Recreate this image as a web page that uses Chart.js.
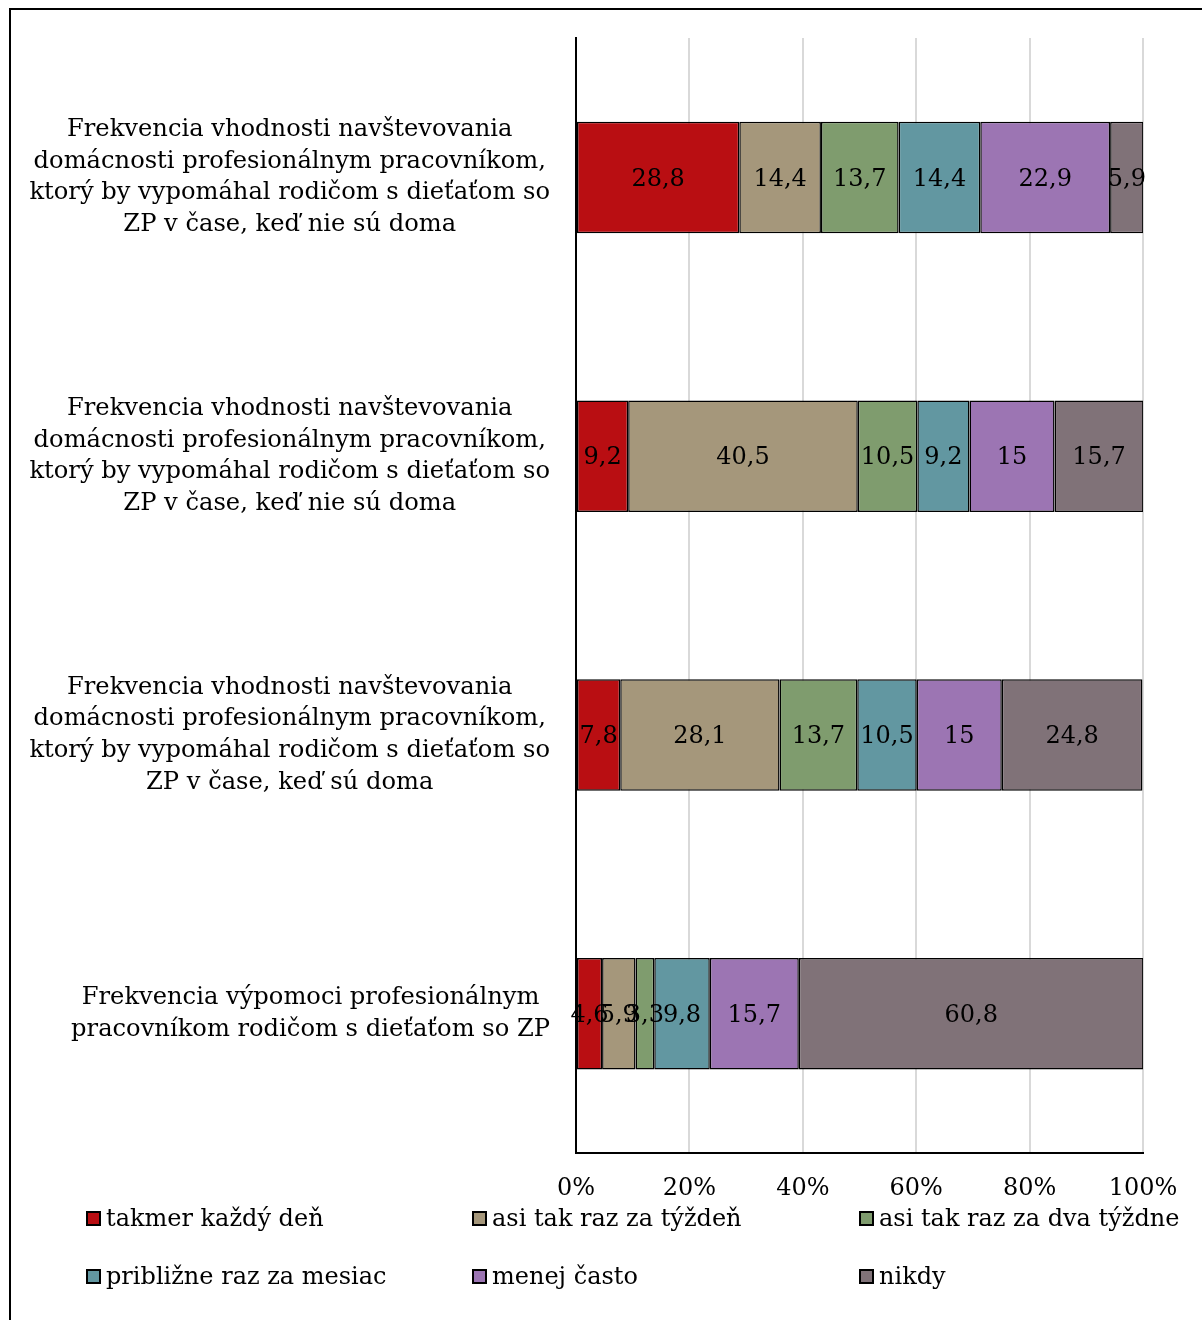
<!DOCTYPE html>
<html lang="sk">
<head>
<meta charset="utf-8">
<title>Frekvencia návštev profesionálneho pracovníka</title>
<script src="https://cdn.jsdelivr.net/npm/chart.js@4/dist/chart.umd.min.js"></script>
<style>
  html, body { margin: 0; padding: 0; background: #fff; overflow: hidden; }
  #wrap { position: relative; width: 1202px; height: 1320px; }
  #frame { position: absolute; left: 9px; top: 8px; width: 1400px; height: 1500px;
           border-left: 2px solid #000; border-top: 2px solid #000; box-sizing: border-box; }
  canvas { position: absolute; left: 0; top: 0; }
  #legend { position: absolute; left: 0; top: 0; width: 1202px; height: 1320px; pointer-events: none;
            font-family: "DejaVu Serif", serif; font-size: 24px; color: #000; }
  .item { position: absolute; display: flex; align-items: center; white-space: nowrap; }
  .box { width: 15px; height: 15px; border: 2px solid #000; box-sizing: border-box; margin-right: 5px; }
</style>
</head>
<body>
<div id="wrap">
  <div id="frame"></div>
  <canvas id="chart" width="1202" height="1320"></canvas>
  <div id="legend"></div>
</div>
<script>
// Survey items (each label split into its display lines)
const categories = [
  ["Frekvencia vhodnosti navštevovania", "domácnosti profesionálnym pracovníkom,", "ktorý by vypomáhal rodičom s dieťaťom so", "ZP v čase, keď nie sú doma"],
  ["Frekvencia vhodnosti navštevovania", "domácnosti profesionálnym pracovníkom,", "ktorý by vypomáhal rodičom s dieťaťom so", "ZP v čase, keď nie sú doma"],
  ["Frekvencia vhodnosti navštevovania", "domácnosti profesionálnym pracovníkom,", "ktorý by vypomáhal rodičom s dieťaťom so", "ZP v čase, keď sú doma"],
  ["Frekvencia výpomoci profesionálnym", "pracovníkom rodičom s dieťaťom so ZP"]
];

// Answer categories
const seriesNames = ["takmer každý deň", "asi tak raz za týždeň", "asi tak raz za dva týždne",
                     "približne raz za mesiac", "menej často", "nikdy"];

// Percentages per answer, in the order of the categories above
const takmerKazdyDen = [28.8, 9.2, 7.8, 4.6];
const razZaTyzden    = [14.4, 40.5, 28.1, 5.9];
const razZaDvaTyzdne = [13.7, 10.5, 13.7, 3.3];
const razZaMesiac    = [14.4, 9.2, 10.5, 9.8];
const menejCasto     = [22.9, 15, 15, 15.7];
const nikdy          = [5.9, 15.7, 24.8, 60.8];

const seriesValues = [takmerKazdyDen, razZaTyzden, razZaDvaTyzdne, razZaMesiac, menejCasto, nikdy];
const seriesColors = ["#B90E12", "#A5977B", "#7F9C6E", "#6297A1", "#9C75B3", "#807278"];

const xTicks = [0, 20, 40, 60, 80, 100];

const FONT = "DejaVu Serif";

// Value labels centred in every segment
const segmentLabels = {
  id: "segmentLabels",
  afterDatasetsDraw(chart) {
    const ctx = chart.ctx;
    ctx.save();
    ctx.font = "24px '" + FONT + "'";
    ctx.fillStyle = "#000";
    ctx.textAlign = "center";
    ctx.textBaseline = "middle";
    chart.data.datasets.forEach((ds, di) => {
      const meta = chart.getDatasetMeta(di);
      meta.data.forEach((bar, i) => {
        const v = ds.data[i];
        const p = bar.getCenterPoint();
        ctx.fillText(String(v).replace(".", ","), p.x, p.y + 2);
      });
    });
    ctx.restore();
  }
};

// Category labels: block right-aligned to the axis, lines centred within the block
const categoryLabels = {
  id: "categoryLabels",
  afterDraw(chart) {
    const ctx = chart.ctx;
    const y = chart.scales.y;
    const right = y.right - 26;
    const lineH = 31.6;
    ctx.save();
    ctx.font = "24.2px '" + FONT + "'";
    ctx.fillStyle = "#000";
    ctx.textAlign = "center";
    ctx.textBaseline = "middle";
    chart.data.labels.forEach((lines, i) => {
      const cy = y.getPixelForValue(i);
      const w = Math.max(...lines.map(l => ctx.measureText(l).width));
      const cx = right - w / 2;
      const top = cy - (lines.length - 1) * lineH / 2;
      lines.forEach((l, k) => ctx.fillText(l, cx, top + k * lineH));
    });
    ctx.restore();
  }
};

new Chart(document.getElementById("chart"), {
  type: "bar",
  data: {
    labels: categories,
    datasets: seriesNames.map((name, k) => ({
      label: name,
      data: seriesValues[k],
      backgroundColor: seriesColors[k],
      borderColor: "#000",
      borderWidth: 1.5,
      borderSkipped: false,
      categoryPercentage: 1,
      barPercentage: 0.4
    }))
  },
  options: {
    indexAxis: "y",
    responsive: false,
    animation: false,
    devicePixelRatio: 1,
    layout: { padding: { top: 38, right: 59, bottom: 107, left: 0 } },
    plugins: { legend: { display: false }, tooltip: { enabled: false } },
    scales: {
      x: {
        stacked: true,
        min: 0, max: 100,
        afterBuildTicks(scale) { scale.ticks = xTicks.map(v => ({ value: v })); },
        afterFit(scale) { scale.height = 60; },
        ticks: {
          color: "#000",
          font: { family: FONT, size: 24 },
          padding: 21,
          callback: v => v + "%"
        },
        grid: { color: "#D9D9D9", lineWidth: 2, drawTicks: false },
        border: { display: true, color: "#000", width: 2 }
      },
      y: {
        stacked: true,
        afterFit(scale) { scale.width = 576; },
        ticks: { display: false },
        grid: { display: false, drawTicks: false },
        border: { display: true, color: "#000", width: 2 }
      }
    }
  },
  plugins: [segmentLabels, categoryLabels]
});

// Legend in a two-row, three-column grid
const legend = document.getElementById("legend");
const legendCols = [86, 472, 859];
const legendRows = [1218, 1276];
seriesNames.forEach((name, k) => {
  const item = document.createElement("div");
  item.className = "item";
  item.style.left = legendCols[k % 3] + "px";
  item.style.top = (legendRows[Math.floor(k / 3)] - 16) + "px";
  item.style.height = "32px";
  const box = document.createElement("span");
  box.className = "box";
  box.style.background = seriesColors[k];
  const txt = document.createElement("span");
  txt.textContent = name;
  item.appendChild(box);
  item.appendChild(txt);
  legend.appendChild(item);
});
</script>
</body>
</html>
